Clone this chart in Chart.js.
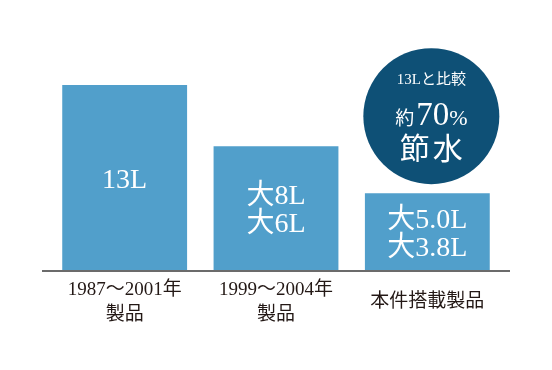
<!DOCTYPE html>
<html>
<head>
<meta charset="utf-8">
<script src="https://cdn.jsdelivr.net/npm/chart.js@4/dist/chart.umd.min.js"></script>
<style>
html,body{margin:0;padding:0;background:#fff;}
#wrap{width:552px;height:370px;}
</style>
</head>
<body>
<div id="wrap"><canvas id="myChart"></canvas></div>
<script>
// data
var categories = [['1987～2001年', '製品'], ['1999～2004年', '製品'], '本件搭載製品'];
var barHeights = [13, 8.7, 5.4];
var barLabels = [['13L'], ['大8L', '大6L'], ['大5.0L', '大3.8L']];
var badgeTop = '13Lと比較';
var badgeMid = ['約', '70', '%'];
var badgeBottom = '節水';

var SERIF = "'Liberation Serif', 'Noto Sans CJK JP', serif";
var BAR_COLOR = '#519fcb';
var BADGE_COLOR = '#0e5076';

// baseline under the bars, a bit wider than the plot area
var baseLine = {
    id: 'baseLine',
    afterDatasetsDraw: function(chart){
        var ctx = chart.ctx;
        var area = chart.chartArea;
        var y = chart.scales.y.getPixelForValue(0) + 1;
        ctx.save();
        ctx.strokeStyle = 'rgba(0,0,0,0.58)';
        ctx.lineWidth = 2;
        ctx.beginPath();
        ctx.moveTo(area.left - 7, y);
        ctx.lineTo(area.right + 7, y);
        ctx.stroke();
        ctx.restore();
    }
};

// litres written inside each bar
var barText = {
    id: 'barText',
    afterDatasetsDraw: function(chart){
        var ctx = chart.ctx;
        var bars = chart.getDatasetMeta(0).data;
        ctx.save();
        ctx.fillStyle = '#ffffff';
        ctx.textAlign = 'center';
        ctx.textBaseline = 'middle';
        ctx.font = '28px ' + SERIF;
        bars.forEach(function(bar, i){
            var lines = barLabels[i];
            var lh = 28;
            var mid = (bar.y + bar.base) / 2 + 3;
            var start = mid - (lines.length - 1) * lh / 2;
            lines.forEach(function(t, j){
                ctx.fillText(t, bar.x, start + j * lh);
            });
        });
        ctx.restore();
    }
};

// round badge above the last bar
var badge = {
    id: 'badge',
    afterDatasetsDraw: function(chart){
        var ctx = chart.ctx;
        var bar = chart.getDatasetMeta(0).data[2];
        var cx = bar.x + 4;
        var cy = bar.y - 77;
        ctx.save();
        ctx.fillStyle = BADGE_COLOR;
        ctx.beginPath();
        ctx.arc(cx, cy, 68, 0, Math.PI * 2);
        ctx.fill();

        ctx.fillStyle = '#ffffff';
        ctx.textBaseline = 'alphabetic';
        ctx.textAlign = 'center';
        ctx.font = '15px ' + SERIF;
        ctx.fillText(badgeTop, cx, cy - 32);

        // 約70% with mixed sizes on one baseline
        var sizes = [19, 33, 22];
        var widths = badgeMid.map(function(t, i){
            ctx.font = sizes[i] + 'px ' + SERIF;
            return ctx.measureText(t).width;
        });
        var total = widths.reduce(function(a, b){ return a + b; }, 0) + 2;
        var x = cx - total / 2;
        ctx.textAlign = 'left';
        badgeMid.forEach(function(t, i){
            ctx.font = sizes[i] + 'px ' + SERIF;
            ctx.fillText(t, x, cy + 9);
            x += widths[i] + (i == 0 ? 2 : 0);
        });

        ctx.textAlign = 'center';
        ctx.textBaseline = 'middle';
        ctx.font = '30px ' + SERIF;
        ctx.letterSpacing = '3px';
        ctx.fillText(badgeBottom, cx + 1.5, cy + 35);
        ctx.restore();
    }
};

var ctx = document.getElementById('myChart').getContext('2d');
var myChart = new Chart(ctx, {
    type: 'bar',
    data: {
        labels: categories,
        datasets: [{
            data: barHeights,
            backgroundColor: BAR_COLOR,
            borderWidth: 0,
            categoryPercentage: 1,
            barPercentage: 0.825
        }]
    },
    options: {
        responsive: true,
        maintainAspectRatio: false,
        animation: false,
        layout: { padding: { left: 49, right: 49, top: 85, bottom: 0 } },
        plugins: {
            legend: { display: false },
            tooltip: { enabled: false }
        },
        scales: {
            x: {
                grid: { display: false, drawTicks: false },
                border: { display: false },
                afterFit: function(s){ s.height = 100; },
                ticks: {
                    color: '#231815',
                    padding: 20,
                    crossAlign: 'center',
                    maxRotation: 0,
                    font: { family: SERIF, size: 19, lineHeight: 1.3 }
                }
            },
            y: {
                display: false,
                min: 0,
                max: 13
            }
        }
    },
    plugins: [baseLine, barText, badge]
});
</script>
</body>
</html>
